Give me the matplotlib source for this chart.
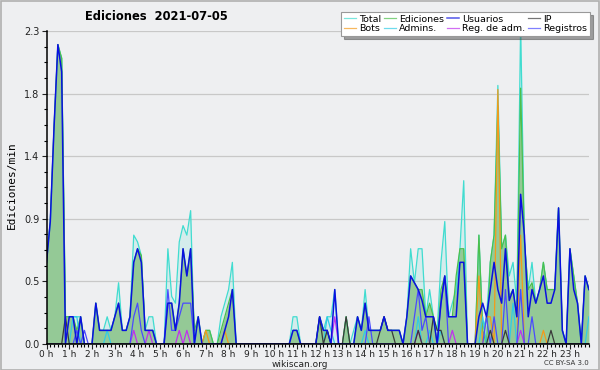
import numpy as np
import matplotlib.pyplot as plt
from matplotlib.patches import Rectangle
from matplotlib.ticker import MultipleLocator, FuncFormatter

# valores por intervalo de 10 min (6 por hora), ediciones/min
total = [
    0.6, 0.9, 1.6, 2.2, 2.1, 0.2,
    0.2, 0.2, 0.2, 0.2, 0.0, 0.0,
    0.0, 0.3, 0.1, 0.1, 0.2, 0.1,
    0.2, 0.45, 0.1, 0.1, 0.2, 0.8,
    0.75, 0.65, 0.1, 0.2, 0.2, 0.0,
    0.0, 0.0, 0.7, 0.35, 0.3, 0.75,
    0.87, 0.8, 0.98, 0.0, 0.2, 0.0,
    0.1, 0.1, 0.0, 0.0, 0.2, 0.3,
    0.4, 0.6, 0.0, 0.0, 0.0, 0.0,
    0.0, 0.0, 0.0, 0.0, 0.0, 0.0,
    0.0, 0.0, 0.0, 0.0, 0.0, 0.2,
    0.2, 0.0, 0.0, 0.0, 0.0, 0.0,
    0.2, 0.1, 0.2, 0.2, 0.4, 0.0,
    0.0, 0.2, 0.0, 0.1, 0.2, 0.1,
    0.4, 0.1, 0.1, 0.1, 0.1, 0.2,
    0.1, 0.1, 0.1, 0.1, 0.0, 0.2,
    0.7, 0.45, 0.7, 0.7, 0.2, 0.4,
    0.2, 0.1, 0.6, 0.9, 0.2, 0.3,
    0.4, 0.7, 1.2, 0.0, 0.0, 0.0,
    0.8, 0.1, 0.2, 0.6, 0.8, 1.9,
    0.7, 0.8, 0.5, 0.6, 0.3, 2.35,
    0.75, 0.4, 0.6, 0.3, 0.4, 0.6,
    0.4, 0.4, 0.4, 1.0, 0.1, 0.0,
    0.7, 0.5, 0.3, 0.0, 0.5, 0.4,
]
ediciones = [
    0.6, 0.9, 1.6, 2.2, 2.1, 0.2,
    0.2, 0.2, 0.1, 0.2, 0.0, 0.0,
    0.0, 0.3, 0.1, 0.1, 0.1, 0.1,
    0.2, 0.3, 0.1, 0.1, 0.2, 0.6,
    0.7, 0.65, 0.1, 0.1, 0.1, 0.0,
    0.0, 0.0, 0.3, 0.3, 0.1, 0.3,
    0.7, 0.5, 0.7, 0.1, 0.2, 0.0,
    0.1, 0.1, 0.0, 0.0, 0.1, 0.2,
    0.3, 0.4, 0.0, 0.0, 0.0, 0.0,
    0.0, 0.0, 0.0, 0.0, 0.0, 0.0,
    0.0, 0.0, 0.0, 0.0, 0.0, 0.1,
    0.1, 0.0, 0.0, 0.0, 0.0, 0.0,
    0.2, 0.1, 0.1, 0.0, 0.0, 0.0,
    0.0, 0.2, 0.0, 0.0, 0.2, 0.1,
    0.3, 0.1, 0.1, 0.1, 0.1, 0.2,
    0.1, 0.1, 0.1, 0.1, 0.0, 0.2,
    0.5, 0.45, 0.4, 0.4, 0.2, 0.3,
    0.2, 0.0, 0.4, 0.5, 0.2, 0.2,
    0.5, 0.7, 0.7, 0.0, 0.0, 0.0,
    0.8, 0.1, 0.0, 0.6, 0.8, 1.75,
    0.7, 0.8, 0.35, 0.4, 0.2, 1.88,
    0.75, 0.4, 0.45, 0.3, 0.4, 0.6,
    0.4, 0.4, 0.4, 1.0, 0.1, 0.0,
    0.7, 0.5, 0.3, 0.0, 0.5, 0.4,
]
usuarios = [
    0.6, 0.9, 1.6, 2.2, 2.0, 0.0,
    0.2, 0.2, 0.0, 0.2, 0.0, 0.0,
    0.0, 0.3, 0.1, 0.1, 0.1, 0.1,
    0.2, 0.3, 0.1, 0.1, 0.2, 0.6,
    0.7, 0.6, 0.1, 0.1, 0.1, 0.0,
    0.0, 0.0, 0.3, 0.3, 0.1, 0.3,
    0.7, 0.5, 0.7, 0.0, 0.2, 0.0,
    0.0, 0.0, 0.0, 0.0, 0.0, 0.1,
    0.2, 0.4, 0.0, 0.0, 0.0, 0.0,
    0.0, 0.0, 0.0, 0.0, 0.0, 0.0,
    0.0, 0.0, 0.0, 0.0, 0.0, 0.1,
    0.1, 0.0, 0.0, 0.0, 0.0, 0.0,
    0.2, 0.1, 0.1, 0.0, 0.4, 0.0,
    0.0, 0.0, 0.0, 0.0, 0.2, 0.1,
    0.3, 0.1, 0.1, 0.1, 0.1, 0.2,
    0.1, 0.1, 0.1, 0.1, 0.0, 0.2,
    0.5, 0.45, 0.4, 0.32, 0.2, 0.2,
    0.2, 0.0, 0.3, 0.5, 0.2, 0.2,
    0.2, 0.6, 0.6, 0.0, 0.0, 0.0,
    0.2, 0.3, 0.2, 0.4, 0.6, 0.4,
    0.3, 0.7, 0.32, 0.4, 0.2, 1.1,
    0.8, 0.2, 0.4, 0.3, 0.4, 0.5,
    0.3, 0.3, 0.4, 1.0, 0.1, 0.0,
    0.7, 0.4, 0.3, 0.0, 0.5, 0.4,
]
ip = [
    0.0, 0.0, 0.0, 0.0, 0.0, 0.2,
    0.0, 0.0, 0.0, 0.0, 0.0, 0.0,
    0.0, 0.0, 0.0, 0.0, 0.0, 0.0,
    0.0, 0.0, 0.0, 0.0, 0.0, 0.0,
    0.0, 0.0, 0.0, 0.0, 0.0, 0.0,
    0.0, 0.0, 0.0, 0.0, 0.0, 0.0,
    0.0, 0.0, 0.0, 0.0, 0.0, 0.0,
    0.0, 0.0, 0.0, 0.0, 0.0, 0.0,
    0.0, 0.0, 0.0, 0.0, 0.0, 0.0,
    0.0, 0.0, 0.0, 0.0, 0.0, 0.0,
    0.0, 0.0, 0.0, 0.0, 0.0, 0.0,
    0.0, 0.0, 0.0, 0.0, 0.0, 0.0,
    0.2, 0.0, 0.1, 0.0, 0.0, 0.0,
    0.0, 0.2, 0.0, 0.0, 0.0, 0.0,
    0.0, 0.0, 0.0, 0.0, 0.1, 0.2,
    0.1, 0.1, 0.0, 0.0, 0.0, 0.0,
    0.0, 0.0, 0.1, 0.0, 0.0, 0.0,
    0.2, 0.1, 0.1, 0.0, 0.0, 0.0,
    0.0, 0.0, 0.0, 0.0, 0.0, 0.0,
    0.0, 0.0, 0.0, 0.1, 0.0, 0.0,
    0.0, 0.1, 0.0, 0.0, 0.0, 0.0,
    0.0, 0.0, 0.0, 0.0, 0.0, 0.0,
    0.0, 0.1, 0.0, 0.0, 0.0, 0.0,
    0.0, 0.0, 0.0, 0.0, 0.0, 0.0,
]
bots = [0.0] * 42 + [0.1, 0.0, 0.0, 0.0, 0.0, 0.1] + [0.0] * 66 + [
    0.5, 0.0, 0.2, 0.2, 0.0, 1.87,
    0.0, 0.0, 0.0, 0.0, 0.0, 0.8,
    0.0, 0.0, 0.0, 0.0, 0.0, 0.1,
] + [0.0] * 12
admins = [
    0.0, 0.0, 0.0, 0.0, 0.0, 0.0,
    0.0, 0.2, 0.2, 0.0, 0.0, 0.0,
    0.0, 0.0, 0.0, 0.0, 0.1, 0.0,
] + [0.0] * 54 + [
    0.0, 0.0, 0.2, 0.1, 0.0, 0.0,
    0.0, 0.0, 0.0, 0.0, 0.0, 0.0,
    0.1, 0.0, 0.0, 0.0, 0.0, 0.0,
    0.0, 0.0, 0.0, 0.0, 0.0, 0.0,
    0.0, 0.0, 0.2, 0.0, 0.0, 0.1,
    0.0, 0.0, 0.1, 0.0, 0.0, 0.0,
    0.0, 0.0, 0.0, 0.0, 0.0, 0.0,
    0.0, 0.2, 0.0, 0.0, 0.0, 0.0,
    0.0, 0.0, 0.0, 0.3, 0.0, 0.0,
    0.0, 0.0, 0.0, 0.0, 0.0, 0.0,
    0.0, 0.0, 0.0, 0.0, 0.0, 0.0,
    0.0, 0.0, 0.0, 0.0, 0.0, 0.2,
]
reg_adm = [0.0] * 23 + [0.1, 0.0, 0.0, 0.0, 0.1, 0.0, 0.0, 0.0, 0.0, 0.0, 0.0, 0.0, 0.1,
                        0.0, 0.1] + [0.0] * 38 + [0.2] + [0.0] * 21 + [0.1] + [0.0] * 8 + [
    0.1] + [0.0] * 17 + [0.1] + [0.0] * 18
registros = [
    0.0, 0.0, 0.0, 0.0, 0.0, 0.0,
    0.0, 0.0, 0.1, 0.0, 0.1, 0.0,
    0.0, 0.0, 0.0, 0.0, 0.0, 0.0,
    0.0, 0.0, 0.0, 0.0, 0.0, 0.2,
    0.3, 0.1, 0.0, 0.0, 0.0, 0.0,
    0.0, 0.0, 0.4, 0.1, 0.1, 0.2,
    0.3, 0.3, 0.3, 0.0, 0.0, 0.0,
] + [0.0] * 42 + [
    0.0, 0.2, 0.0, 0.0, 0.0, 0.0,
    0.0, 0.0, 0.0, 0.0, 0.0, 0.0,
    0.0, 0.2, 0.4, 0.1, 0.2, 0.0,
    0.0, 0.0, 0.3, 0.5, 0.0, 0.0,
    0.0, 0.0, 0.0, 0.0, 0.0, 0.0,
    0.0, 0.0, 0.2, 0.0, 0.2, 0.0,
    0.0, 0.4, 0.0, 0.0, 0.0, 0.4,
    0.0, 0.0, 0.2, 0.0, 0.0, 0.0,
] + [0.0] * 12

horas = np.arange(len(total)) / 6.0

bg = '#eeeff1'
fig = plt.figure(figsize=(6, 3.7), dpi=100, facecolor=bg)
ax = fig.add_axes([0.0775, 0.0703, 0.904, 0.8459], facecolor=bg)
fig.patches.append(Rectangle((0.001, 0.001), 0.997, 0.996, transform=fig.transFigure,
                             fill=False, edgecolor='#b0b0b0', linewidth=1.2))

ax.fill_between(horas, total, color='#40e0d0', alpha=0.15, linewidth=0)
ax.fill_between(horas, ediciones, color='#94c996', linewidth=0)

lw = 0.9
ax.plot(horas, total, color='#40dcd0', lw=lw, label='Total')
ax.plot(horas, ediciones, color='#4cbf4c', lw=lw, label='Ediciones')
ax.plot(horas, bots, color='#f49a1a', lw=lw, label='Bots')
ax.plot(horas, admins, color='#30cce6', lw=lw, label='Admins.')
ax.plot(horas, reg_adm, color='#c030ee', lw=lw, label='Reg. de adm.')
ax.plot(horas, registros, color='#4a4aff', lw=lw, label='Registros')
ax.plot(horas, ip, color='#3a3a3a', lw=lw, label='IP')
ax.plot(horas, usuarios, color='#0a10e0', lw=1.1, label='Usuarios')

ax.set_xlim(0, horas[-1])
ax.set_ylim(0, 2.3)

ax.xaxis.set_major_locator(MultipleLocator(1))
ax.xaxis.set_minor_locator(MultipleLocator(1 / 6))
ax.xaxis.set_major_formatter(FuncFormatter(lambda v, p: '%d h' % round(v)))
ax.yaxis.set_major_locator(MultipleLocator(0.46))
ax.yaxis.set_minor_locator(MultipleLocator(0.115))
ax.yaxis.set_major_formatter(FuncFormatter(lambda v, p: '%.1f' % v))
ax.tick_params(axis='x', labelsize=6.5, colors='#222222', pad=0.5)
ax.tick_params(axis='y', labelsize=7, colors='#222222', pad=1.5)
ax.tick_params(which='major', length=3.5, width=0.8)
ax.tick_params(which='minor', length=2.2, width=0.8)

ax.grid(axis='y', color='#c8c8c8', linewidth=0.9)
ax.set_axisbelow(True)
for s in ['top', 'right']:
    ax.spines[s].set_visible(False)
ax.spines['left'].set_linewidth(1.1)
ax.spines['bottom'].set_linewidth(1.1)

fig.text(0.142, 0.955, 'Ediciones  2021-07-05', fontsize=8.3, fontweight='bold',
         va='center', ha='left')
fig.text(0.02, 0.5, 'Ediciones/min', rotation=90, fontsize=8, va='center', ha='center',
         family='DejaVu Sans Mono')
fig.text(0.5, 0.016, 'wikiscan.org', fontsize=6.5, ha='center', va='center', color='#222222')
fig.text(0.982, 0.018, 'CC BY-SA 3.0', fontsize=5, ha='right', va='center', color='#333333')

h = {l.get_label(): l for l in ax.get_lines()}
orden = ['Total', 'Bots', 'Ediciones', 'Admins.', 'Usuarios', 'Reg. de adm.', 'IP', 'Registros']
leg = fig.legend([h[k] for k in orden], orden, ncol=4, loc='upper right',
                 bbox_to_anchor=(0.983, 0.968), fontsize=6.8, frameon=True, fancybox=False,
                 shadow=True, handlelength=1.2, handletextpad=0.35, columnspacing=0.35,
                 labelspacing=0.05, borderpad=0.3, borderaxespad=0)
leg.get_frame().set_edgecolor('#999999')
leg.get_frame().set_linewidth(0.8)
for l in leg.get_lines():
    l.set_alpha(0.7)

plt.savefig('out.png', dpi=100, facecolor=bg)
